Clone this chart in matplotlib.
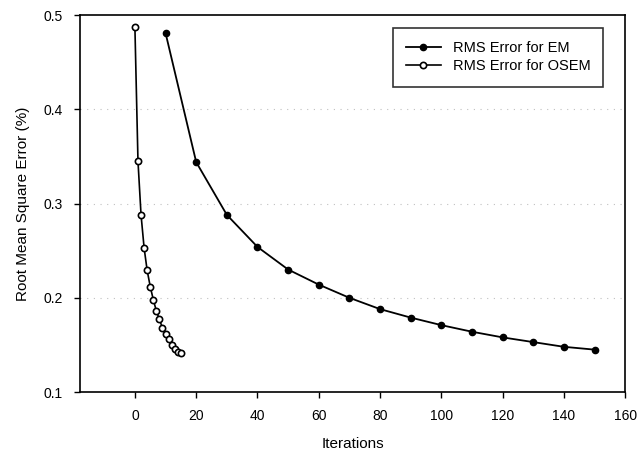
import matplotlib
matplotlib.use("Agg")
import matplotlib.pyplot as plt

plt.rcParams["font.family"] = ["Liberation Sans", "DejaVu Sans"]

#EM curve, one point every 10 iterations
em_iterations = [10, 20, 30, 40, 50, 60, 70, 80, 90, 100, 110, 120, 130, 140, 150]
em_rms = [0.481, 0.344, 0.288, 0.254, 0.230, 0.214, 0.200, 0.188, 0.179,
          0.171, 0.164, 0.158, 0.153, 0.148, 0.145]

#OSEM curve, one point per iteration
osem_iterations = [0, 1, 2, 3, 4, 5, 6, 7, 8, 9, 10, 11, 12, 13, 14, 15]
osem_rms = [0.487, 0.345, 0.288, 0.253, 0.229, 0.212, 0.198, 0.186, 0.177,
            0.168, 0.162, 0.156, 0.150, 0.146, 0.143, 0.141]

x_ticks = [0, 20, 40, 60, 80, 100, 120, 140, 160]
y_ticks = [0.1, 0.2, 0.3, 0.4, 0.5]

fig = plt.figure(figsize=(6.38, 4.58), dpi=100)
ax = fig.add_axes([0.125, 0.144, 0.855, 0.823])

#Faint dotted grid lines like the scan
for y in [0.2, 0.3, 0.4]:
    ax.axhline(y, color="#c0c0c0", linestyle=(0, (1, 5)), linewidth=0.8, zorder=0)

ax.plot(em_iterations, em_rms, color="black", linewidth=1.3,
        marker="o", markersize=4.5, markerfacecolor="black",
        label="RMS Error for EM")
ax.plot(osem_iterations, osem_rms, color="black", linewidth=1.2,
        marker="o", markersize=4.5, markerfacecolor="white",
        markeredgewidth=1.2, label="RMS Error for OSEM")

ax.set_xlim(-18, 160)
ax.set_ylim(0.1, 0.5)
ax.set_xticks(x_ticks)
ax.set_yticks(y_ticks)
ax.set_yticklabels(["0.1", "0.2", "0.3", "0.4", "0.5"])
ax.tick_params(direction="out", length=4, width=1, labelsize=10, pad=8)

for spine in ax.spines.values():
    spine.set_linewidth(1.2)

ax.set_xlabel("Iterations", fontsize=11, labelpad=10)
ax.set_ylabel("Root Mean Square Error (%)", fontsize=11, labelpad=10)

leg = ax.legend(loc="upper right", bbox_to_anchor=(0.96, 0.966),
                borderaxespad=0, fontsize=10.5, frameon=True, fancybox=False,
                edgecolor="black", handlelength=2.4, borderpad=0.9,
                labelspacing=0.3)
leg.get_frame().set_linewidth(1.2)

fig.savefig("out.png", dpi=100)
plt.close(fig)
